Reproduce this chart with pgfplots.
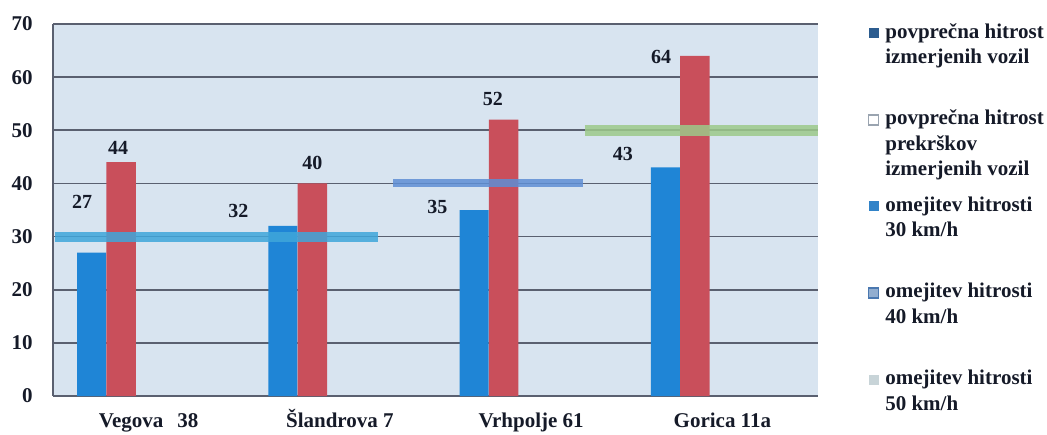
\documentclass[border=0pt]{standalone}
\usepackage{pgfplots}
\pgfplotsset{compat=1.18}
\usepackage{fontspec}
\setmainfont{Liberation Serif}
\definecolor{cblue}{HTML}{1F85D6}
\definecolor{cred}{HTML}{C94F5B}
\definecolor{bgcol}{HTML}{D8E4F0}
\definecolor{gridcol}{HTML}{5A6070}
\definecolor{cthirty}{HTML}{3FA6DA}
\definecolor{cforty}{HTML}{5E8ED4}
\definecolor{cfifty}{HTML}{9DC98A}
\definecolor{lgone}{HTML}{2C5C8F}
\definecolor{lgtwo}{HTML}{9AA4B0}
\definecolor{lgthree}{HTML}{3183C8}
\definecolor{lgfour}{HTML}{4A78B0}
\definecolor{lgfive}{HTML}{C8D4D8}
\definecolor{txt}{HTML}{151A28}
\newcommand{\lgtext}[1]{\parbox[t]{95pt}{\raggedright\fontsize{10.5}{12.8}\selectfont\bfseries #1}}
\begin{document}
\begin{tikzpicture}
\useasboundingbox (-26.5pt,-19pt) rectangle (497pt,198pt);
\begin{axis}[
  at={(0pt,0pt)}, anchor=south west,
  scale only axis, width=382.5pt, height=186pt,
  xmin=-0.5, xmax=3.5, ymin=0, ymax=70,
  ytick={0,10,...,70},
  xtick={0,1,2,3},
  xticklabels={Vegova\hspace{7pt}38, Šlandrova 7, Vrhpolje 61, Gorica 11a},
  major x tick style={draw=none},
  extra x ticks={0.5,1.5,2.5,3.5},
  extra x tick labels={},
  extra x tick style={grid=none, tick align=outside, major tick length=3pt, major tick style={draw=gridcol}},
  ytick style={draw=none},
  ymajorgrids,
  major grid style={draw=gridcol, line width=0.8pt},
  axis background/.style={fill=bgcol},
  axis x line*=bottom, axis y line*=left,
  axis line style={-, draw=gridcol, line width=0.8pt},
  /pgf/number format/assume math mode=true,
  yticklabel style={font=\fontsize{10.5}{12}\selectfont\bfseries, text=txt, inner sep=0pt, anchor=east, xshift=-10pt},
  xticklabel style={font=\fontsize{10.5}{12}\selectfont\bfseries, text=txt, inner sep=0pt, anchor=north, yshift=-8pt, text height=7.5pt, text depth=2.5pt},
  legend image code/.code={\path[draw=none,fill=none] (0pt,8pt) -- (0pt,-35.3pt);\fill[#1] (0pt,0pt) rectangle (5pt,5pt);},
  legend style={at={(1.065,1.005)}, anchor=north west, draw=none, fill=none,
    inner sep=0pt, outer sep=0pt, row sep=0pt, column sep=3pt,
    nodes={inner sep=0pt, outer sep=0pt, anchor=base west, text=txt}},
]
\addlegendimage{fill=lgone, draw=none}
\addlegendentry{\lgtext{povprečna hitrost\\izmerjenih vozil}}
\addlegendimage{fill=white, draw=lgtwo, line width=0.8pt}
\addlegendentry{\lgtext{povprečna hitrost\\prekrškov\\izmerjenih vozil}}
\addlegendimage{fill=lgthree, draw=none}
\addlegendentry{\lgtext{omejitev hitrosti\\30 km/h}}
\addlegendimage{fill=lgfour!60, draw=lgfour, line width=0.8pt}
\addlegendentry{\lgtext{omejitev hitrosti\\40 km/h}}
\addlegendimage{fill=lgfive, draw=none}
\addlegendentry{\lgtext{omejitev hitrosti\\50 km/h}}

\addplot[forget plot, ybar, bar width=0.152, bar shift=0pt, fill=cblue, draw=none]
  coordinates {(-0.298,27) (0.702,32) (1.702,35) (2.702,43)};
\addplot[forget plot, ybar, bar width=0.155, bar shift=0pt, fill=cred, draw=none]
  coordinates {(-0.144,44) (0.856,40) (1.856,52) (2.856,64)};

\addplot[forget plot, cthirty, line width=5pt, opacity=0.85] coordinates {(-0.49,30) (1.20,30)};
\addplot[forget plot, cforty, line width=4pt, opacity=0.85] coordinates {(1.28,40) (2.27,40)};
\addplot[forget plot, cfifty, line width=5.5pt, opacity=0.85] coordinates {(2.28,50) (3.5,50)};

\tikzset{lbl/.style={font=\fontsize{10}{12}\selectfont\bfseries, text=txt, inner sep=0pt}}
\node[lbl] at (axis cs:-0.348,36.5) {27};
\node[lbl] at (axis cs:-0.16,46.7) {44};
\node[lbl] at (axis cs:0.469,34.8) {32};
\node[lbl] at (axis cs:0.856,43.9) {40};
\node[lbl] at (axis cs:1.51,35.6) {35};
\node[lbl] at (axis cs:1.80,55.9) {52};
\node[lbl] at (axis cs:2.48,45.6) {43};
\node[lbl] at (axis cs:2.68,63.8) {64};
\end{axis}
\end{tikzpicture}
\end{document}
